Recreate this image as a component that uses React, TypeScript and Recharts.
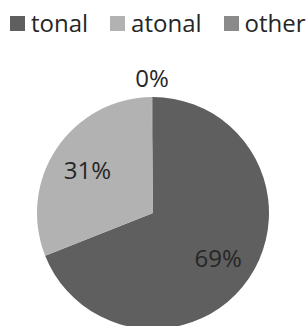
import { PieChart, Pie, Cell, Legend } from 'recharts';

const categories = ['tonal', 'atonal', 'other'];
const shares = [69, 30.8, 0.2];
const colors = ['#5f5f5f', '#b2b2b2', '#8a8a8a'];

const data = categories.map((name, i) => ({ name, value: shares[i] }));

const FONT = '"Open Sans", "Noto Sans", sans-serif';
const LEGEND_H = 40;

// legend kept in data order (recharts 3 sorts payload otherwise)
const renderLegend = () => (
  <div style={{ height: LEGEND_H, display: 'flex', alignItems: 'flex-start', paddingLeft: 10, paddingTop: 8, boxSizing: 'border-box' }}>
    {categories.map((name, i) => (
      <div key={name} style={{ display: 'flex', alignItems: 'center', marginRight: i < categories.length - 1 ? 22 : 0 }}>
        <div style={{ width: 15, height: 15, background: colors[i], marginRight: 6 }} />
        <span style={{ fontFamily: FONT, fontSize: 24, color: '#262626', lineHeight: '30px' }}>{name}</span>
      </div>
    ))}
  </div>
);

const RAD = Math.PI / 180;
const renderLabel = (props: any) => {
  const { cx, cy, midAngle, outerRadius, percent } = props;
  const r = percent < 0.01 ? outerRadius + 20 : outerRadius * 0.68;
  const x = cx + r * Math.cos(-midAngle * RAD);
  const y = cy + r * Math.sin(-midAngle * RAD);
  return (
    <text x={x} y={y} textAnchor="middle" dominantBaseline="central"
      fill="#262626" fontFamily={FONT} fontSize={24}>
      {`${Math.round(percent * 100)}%`}
    </text>
  );
};

export default function App() {
  return (
    <div style={{ width: 308, height: 326, background: '#fff' }}>
      <style>{`body{margin:0}`}</style>
      <PieChart width={308} height={326} margin={{ top: 0, right: 0, bottom: 0, left: 0 }}>
        <Legend verticalAlign="top" align="left" content={renderLegend}
          wrapperStyle={{ top: 0, left: 0, width: 308 }} />
        <Pie data={data} dataKey="value" nameKey="name"
          cx={153} cy={213 - LEGEND_H} outerRadius={116}
          startAngle={90} endAngle={-270}
          stroke="none" label={renderLabel} labelLine={false}
          isAnimationActive={false}>
          {data.map((d, i) => <Cell key={d.name} fill={colors[i]} />)}
        </Pie>
      </PieChart>
    </div>
  );
}
